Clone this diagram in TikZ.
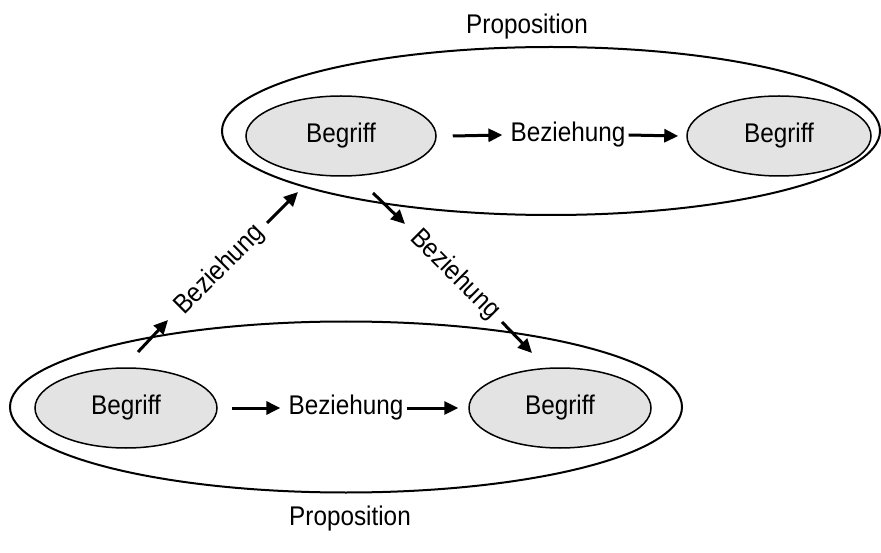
\documentclass[tikz,border=0pt]{standalone}
\usepackage{fontspec}
\setmainfont[FakeStretch=0.9]{Liberation Sans}
\usetikzlibrary{shapes.geometric,arrows.meta}
\definecolor{conceptfill}{HTML}{E3E3E3}
\tikzset{
  lbl/.style={font=\fontsize{27}{32}\selectfont, inner sep=0pt},
  concept/.style={ellipse, draw=black, line width=1.5pt, fill=conceptfill,
    minimum width=184pt, minimum height=80pt, inner sep=0pt, lbl},
  prop/.style={ellipse, draw=black, line width=2pt, inner sep=0pt},
  rel/.style={line width=3pt, -{Triangle[length=14pt,width=13pt]}},
}
\begin{document}
\begin{tikzpicture}[x=1pt,y=-1pt]
  \useasboundingbox (0,0) rectangle (881,553);

  % propositions (outer ellipses)
  \node[prop, minimum width=658pt, minimum height=168pt] (P1) at (551,131) {};
  \node[prop, minimum width=672pt, minimum height=171pt] (P2) at (346,407) {};
  \node[lbl] (P1t) at (527,27) {Proposition};
  \node[lbl] (P2t) at (350,519) {Proposition};

  % upper proposition
  \node[concept, minimum width=190pt] (B1) at (341,136) {Begriff};
  \node[concept] (B2) at (779,136) {Begriff};
  \node[lbl] (R1) at (568,135) {Beziehung};
  \draw[rel] ([xshift=16pt]B1.east) -- ([xshift=-8pt]R1.west);
  \draw[rel] ([xshift=3pt]R1.east) -- ([xshift=-8pt]B2.west);

  % lower proposition
  \node[concept, minimum width=182pt] (B3) at (126,408) {Begriff};
  \node[concept, minimum width=182pt] (B4) at (560,408) {Begriff};
  \node[lbl] (R2) at (346,408) {Beziehung};
  \draw[rel] ([xshift=14pt]B3.east) -- ([xshift=-8pt]R2.west);
  \draw[rel] ([xshift=3pt]R2.east) -- ([xshift=-10pt]B4.west);

  % relations between the propositions
  \node[lbl, rotate=45] (R3) at (220,270) {Beziehung};
  \coordinate (a1) at (138,352);
  \coordinate (a2) at (168,320);
  \coordinate (a3) at (267,223);
  \coordinate (a4) at (298,192);
  \draw[rel] (a1) -- (a2);
  \draw[rel] (a3) -- (a4);

  \node[lbl, rotate=-45] (R4) at (455,275) {Beziehung};
  \coordinate (c1) at (373,193);
  \coordinate (c2) at (405,224);
  \coordinate (c3) at (502,322);
  \coordinate (c4) at (532,353);
  \draw[rel] (c1) -- (c2);
  \draw[rel] (c3) -- (c4);
\end{tikzpicture}
\end{document}
